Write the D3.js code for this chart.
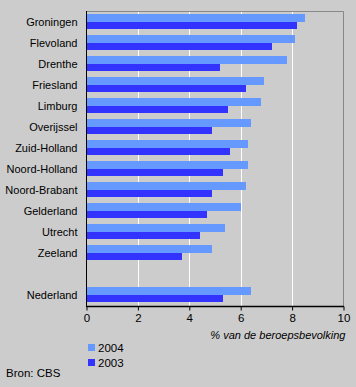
<!DOCTYPE html>
<html><head><meta charset="utf-8">
<script src="https://cdn.jsdelivr.net/npm/d3@7"></script>
<style>
html,body{margin:0;padding:0;background:#cccccc;}
svg{display:block;font-family:"Liberation Sans",Arial,sans-serif;}
</style></head>
<body><svg id="c" width="356" height="387"></svg>
<script>
const categories = ["Groningen","Flevoland","Drenthe","Friesland","Limburg","Overijssel","Zuid-Holland","Noord-Holland","Noord-Brabant","Gelderland","Utrecht","Zeeland","","Nederland"];
const values2004 = [8.5,8.1,7.8,6.9,6.8,6.4,6.3,6.3,6.2,6.0,5.4,4.9,null,6.4];
const values2003 = [8.2,7.2,5.2,6.2,5.5,4.9,5.6,5.3,4.9,4.7,4.4,3.7,null,5.3];
const xTicks = [0,2,4,6,8,10];
const seriesNames = ["2004","2003"];
const colors = ["#6699ff","#3333ff"];

const svg = d3.select("#c");
const x = d3.scaleLinear().domain([0,10]).range([86.5,343.5]);
const y = d3.scaleBand().domain(d3.range(categories.length)).range([11,305]);
const bw = y.bandwidth();
const barH = (bw-5.5)/2;

svg.append("rect").attr("width",356).attr("height",387).attr("fill","#cccccc");

// gridlines
svg.append("g").selectAll("line").data(xTicks.filter(d=>d>0&&d<10)).join("line")
  .attr("x1",d=>Math.round(x(d))+0.5).attr("x2",d=>Math.round(x(d))+0.5)
  .attr("y1",11).attr("y2",306).attr("stroke","#ffffff").attr("stroke-width",1);

// frame top/right
svg.append("path").attr("d",`M86,11.5H343.5V306`).attr("fill","none").attr("stroke","#888888").attr("stroke-width",1);

// bars
const series = [values2004, values2003];
series.forEach((vals,si)=>{
  svg.append("g").selectAll("rect").data(vals.map((v,i)=>({v,i})).filter(d=>d.v!=null)).join("rect")
    .attr("x",x(0)).attr("y",d=>y(d.i)+2.75+si*barH)
    .attr("width",d=>x(d.v)-x(0)).attr("height",barH)
    .attr("fill",colors[si]).attr("shape-rendering","crispEdges");
});

// left axis line
svg.append("line").attr("x1",86.5).attr("x2",86.5).attr("y1",11).attr("y2",306.5).attr("stroke","#000");

// x axis
const xAxis = d3.axisBottom(x).tickValues(xTicks).tickSize(4).tickPadding(3);
const gx = svg.append("g").attr("transform","translate(0,306.5)").call(xAxis);
gx.select(".domain").attr("d","M86,0H344").attr("stroke","#000").attr("stroke-width",1.5);
gx.selectAll(".tick line").attr("stroke","#000");
gx.selectAll(".tick text").attr("font-size","11.5px").attr("fill","#000").attr("font-family","Liberation Sans, Arial, sans-serif");

// category labels
svg.append("g").selectAll("text").data(categories).join("text")
  .attr("x",77.5).attr("y",(d,i)=>y(i)+bw/2+1).attr("dy","0.35em")
  .attr("text-anchor","end").attr("font-size","11px").attr("fill","#000").text(d=>d);

// axis title
svg.append("text").attr("x",345.5).attr("y",339).attr("text-anchor","end")
  .attr("font-size","11px").attr("font-style","italic").attr("fill","#000").text("% van de beroepsbevolking");

// legend
seriesNames.forEach((s,i)=>{
  svg.append("rect").attr("x",88).attr("y",344+i*15).attr("width",7).attr("height",7).attr("fill",colors[i]);
  svg.append("text").attr("x",98).attr("y",351.5+i*15).attr("font-size","11.5px").attr("fill","#000").text(s);
});

svg.append("text").attr("x",6).attr("y",377).attr("font-size","11.5px").attr("fill","#000").text("Bron: CBS");
</script></body></html>
